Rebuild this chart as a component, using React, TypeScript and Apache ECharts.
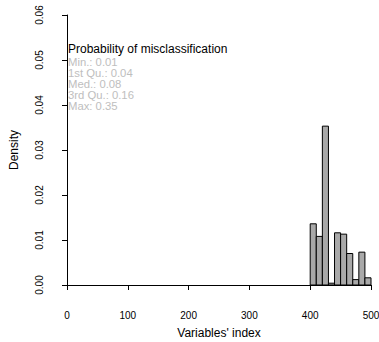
import React, { useEffect, useRef } from "react";
import * as echarts from "echarts";

const binStarts = [400, 410, 420, 430, 440, 450, 460, 470, 480, 490];
const binWidth = 10;
const densities = [0.0136, 0.0108, 0.0353, 0.0004, 0.0116, 0.0113, 0.007, 0.0012, 0.0073, 0.0016];
const legendTitle = "Probability of misclassification";
const legendLines = ["Min.: 0.01", "1st Qu.: 0.04", "Med.: 0.08", "3rd Qu.: 0.16", "Max: 0.35"];
const xTicks = { min: 0, max: 500, interval: 100 };
const yTicks = { min: 0, max: 0.06, interval: 0.01 };

const FONT = "'Liberation Sans', Arial, Helvetica, sans-serif";

export default function App() {
  const ref = useRef<HTMLDivElement>(null);
  useEffect(() => {
    document.body.style.margin = "0";
    const chart = echarts.init(ref.current!, null, { renderer: "svg" });
    const data = binStarts.map((s, i) => [s, s + binWidth, densities[i]]);
    const graphics: any[] = [
      {
        type: "text",
        left: 68,
        top: 43.4,
        style: { text: legendTitle, fill: "#000", font: `12px ${FONT}` },
      },
      ...legendLines.map((t, i) => ({
        type: "text",
        left: 68,
        top: 56.9 + i * 11,
        style: { text: t, fill: "#bebebe", font: `11.3px ${FONT}` },
      })),
    ];
    chart.setOption({
      animation: false,
      backgroundColor: "#fff",
      textStyle: { fontFamily: FONT },
      grid: { left: 67, right: 8, top: 15, bottom: 57, containLabel: false, outerBoundsMode: "none" },
      xAxis: {
        type: "value",
        min: xTicks.min,
        max: xTicks.max,
        interval: xTicks.interval,
        offset: 13,
        name: "Variables' index",
        nameLocation: "middle",
        nameGap: 29,
        nameTextStyle: { fontSize: 12, color: "#000", fontFamily: FONT },
        axisLine: { show: true, lineStyle: { color: "#000", width: 1 } },
        axisTick: { show: true, length: 5, lineStyle: { color: "#000" } },
        axisLabel: { fontSize: 10, color: "#000", margin: 12, fontFamily: FONT },
        splitLine: { show: false },
      },
      yAxis: {
        type: "value",
        min: yTicks.min,
        max: yTicks.max,
        interval: yTicks.interval,
        offset: 11,
        name: "Density",
        nameLocation: "middle",
        nameGap: 36,
        nameTextStyle: { fontSize: 12, color: "#000", fontFamily: FONT },
        axisLine: { show: true, lineStyle: { color: "#000", width: 1 } },
        axisTick: { show: true, length: 5, lineStyle: { color: "#000" } },
        axisLabel: {
          fontSize: 10,
          color: "#000",
          rotate: 90,
          margin: 12,
          fontFamily: FONT,
          formatter: (v: number) => v.toFixed(2),
        },
        splitLine: { show: false },
      },
      series: [
        {
          type: "custom",
          data,
          encode: { x: [0, 1], y: 2 },
          renderItem: (params: any, api: any) => {
            const x0 = api.value(0);
            const x1 = api.value(1);
            const h = api.value(2);
            const p0 = api.coord([x0, h]);
            const p1 = api.coord([x1, 0]);
            return {
              type: "rect",
              shape: { x: p0[0], y: p0[1], width: p1[0] - p0[0], height: p1[1] - p0[1] },
              style: { fill: "#a9a9a9", stroke: "#000", lineWidth: 1 },
            };
          },
        },
      ],
      graphic: graphics,
    });
    return () => chart.dispose();
  }, []);
  return <div ref={ref} style={{ width: 379, height: 342, position: "fixed", left: 0, top: 0 }} />;
}
